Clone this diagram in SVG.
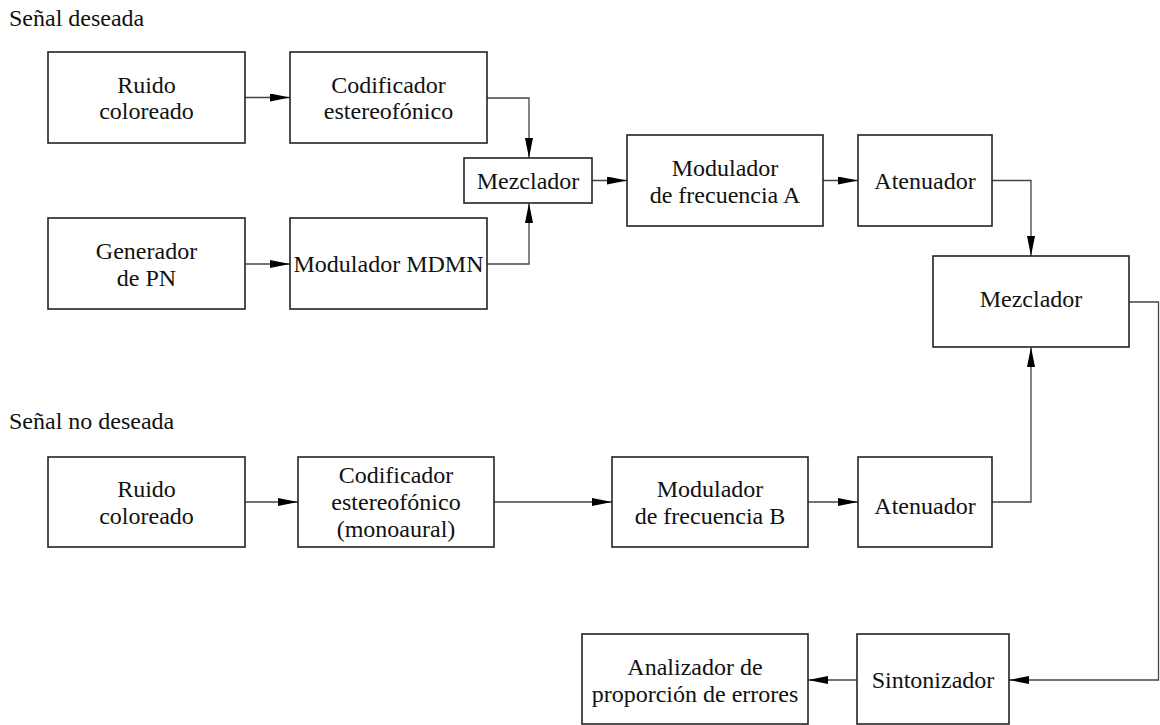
<svg xmlns="http://www.w3.org/2000/svg" width="1160" height="725" viewBox="0 0 1160 725">
  <defs>
    <marker id="arrow" markerUnits="userSpaceOnUse" markerWidth="20" markerHeight="8" refX="20" refY="4" orient="auto">
      <path d="M0,0 L20,4 L0,8 z" fill="#000"/>
    </marker>
    <style>
      .box { fill: #fff; stroke: #222; stroke-width: 1.6; }
      .lbl { text-anchor: middle; }
      .wire { fill: none; stroke: #444; stroke-width: 1.3; }
      .wire.arr { marker-end: url(#arrow); }
    </style>
  </defs>
  <rect width="1160" height="725" fill="#fff"/>

  <g font-family="Liberation Serif, Times New Roman, Tinos, serif" font-size="24" fill="#111">
  <text x="9" y="26">Señal deseada</text>
  <text x="9" y="429">Señal no deseada</text>
  </g>

  <!-- signal paths -->
  <g id="connectors">
    <path class="wire arr" d="M245,97.5 H290"/>
    <path class="wire arr" d="M245,264 H290"/>
    <path class="wire arr" d="M487,98 H529 V158"/>
    <path class="wire arr" d="M487,264 H529 V203"/>
    <path class="wire arr" d="M592,180.5 H627"/>
    <path class="wire arr" d="M823,180.5 H858"/>
    <path class="wire arr" d="M992,180.5 H1031 V256"/>
    <path class="wire arr" d="M245,502 H298"/>
    <path class="wire arr" d="M494,502 H612"/>
    <path class="wire arr" d="M808,502 H858"/>
    <path class="wire arr" d="M992,502 H1031 V347"/>
    <path class="wire arr" d="M1129,302 H1158.5 V680 H1009"/>
    <path class="wire arr" d="M857,680 H808"/>
  </g>

  <g font-family="Liberation Serif, Times New Roman, Tinos, serif" font-size="24" fill="#111">
  <!-- wanted signal chain -->
  <g id="ruido1">
    <rect class="box" x="48" y="52" width="197" height="91"/>
    <text class="lbl" x="146.5" y="92.5">Ruido</text>
    <text class="lbl" x="146.5" y="119">coloreado</text>
  </g>
  <g id="codificador1">
    <rect class="box" x="290" y="52" width="197" height="91"/>
    <text class="lbl" x="388.5" y="92.5">Codificador</text>
    <text class="lbl" x="388.5" y="119">estereofónico</text>
  </g>
  <g id="generador">
    <rect class="box" x="48" y="218" width="197" height="91"/>
    <text class="lbl" x="146.5" y="258.5">Generador</text>
    <text class="lbl" x="146.5" y="285.5">de PN</text>
  </g>
  <g id="mdmn">
    <rect class="box" x="290" y="218" width="197" height="91"/>
    <text class="lbl" x="388.5" y="271.5">Modulador MDMN</text>
  </g>
  <g id="mezclador1">
    <rect class="box" x="464" y="158" width="128" height="45"/>
    <text class="lbl" x="528" y="188.5">Mezclador</text>
  </g>
  <g id="moduladorA">
    <rect class="box" x="627" y="135" width="196" height="91"/>
    <text class="lbl" x="725" y="176">Modulador</text>
    <text class="lbl" x="725" y="203">de frecuencia A</text>
  </g>
  <g id="atenuadorA">
    <rect class="box" x="858" y="135" width="134" height="91"/>
    <text class="lbl" x="925" y="188.5">Atenuador</text>
  </g>
  <g id="mezclador2">
    <rect class="box" x="933" y="256" width="196" height="91"/>
    <text class="lbl" x="1031" y="307">Mezclador</text>
  </g>

  <!-- unwanted signal chain -->
  <g id="ruido2">
    <rect class="box" x="48" y="457" width="197" height="90"/>
    <text class="lbl" x="146.5" y="497">Ruido</text>
    <text class="lbl" x="146.5" y="524">coloreado</text>
  </g>
  <g id="codificador2">
    <rect class="box" x="298" y="457" width="196" height="90"/>
    <text class="lbl" x="396" y="483">Codificador</text>
    <text class="lbl" x="396" y="510">estereofónico</text>
    <text class="lbl" x="396" y="537">(monoaural)</text>
  </g>
  <g id="moduladorB">
    <rect class="box" x="612" y="457" width="196" height="90"/>
    <text class="lbl" x="710" y="497">Modulador</text>
    <text class="lbl" x="710" y="524">de frecuencia B</text>
  </g>
  <g id="atenuadorB">
    <rect class="box" x="858" y="457" width="134" height="90"/>
    <text class="lbl" x="925" y="514">Atenuador</text>
  </g>

  <!-- receiver -->
  <g id="sintonizador">
    <rect class="box" x="857" y="634" width="152" height="90"/>
    <text class="lbl" x="933" y="688">Sintonizador</text>
  </g>
  <g id="analizador">
    <rect class="box" x="582" y="634" width="226" height="90"/>
    <text class="lbl" x="695" y="675">Analizador de</text>
    <text class="lbl" x="695" y="702">proporción de errores</text>
  </g>
  </g>
</svg>
